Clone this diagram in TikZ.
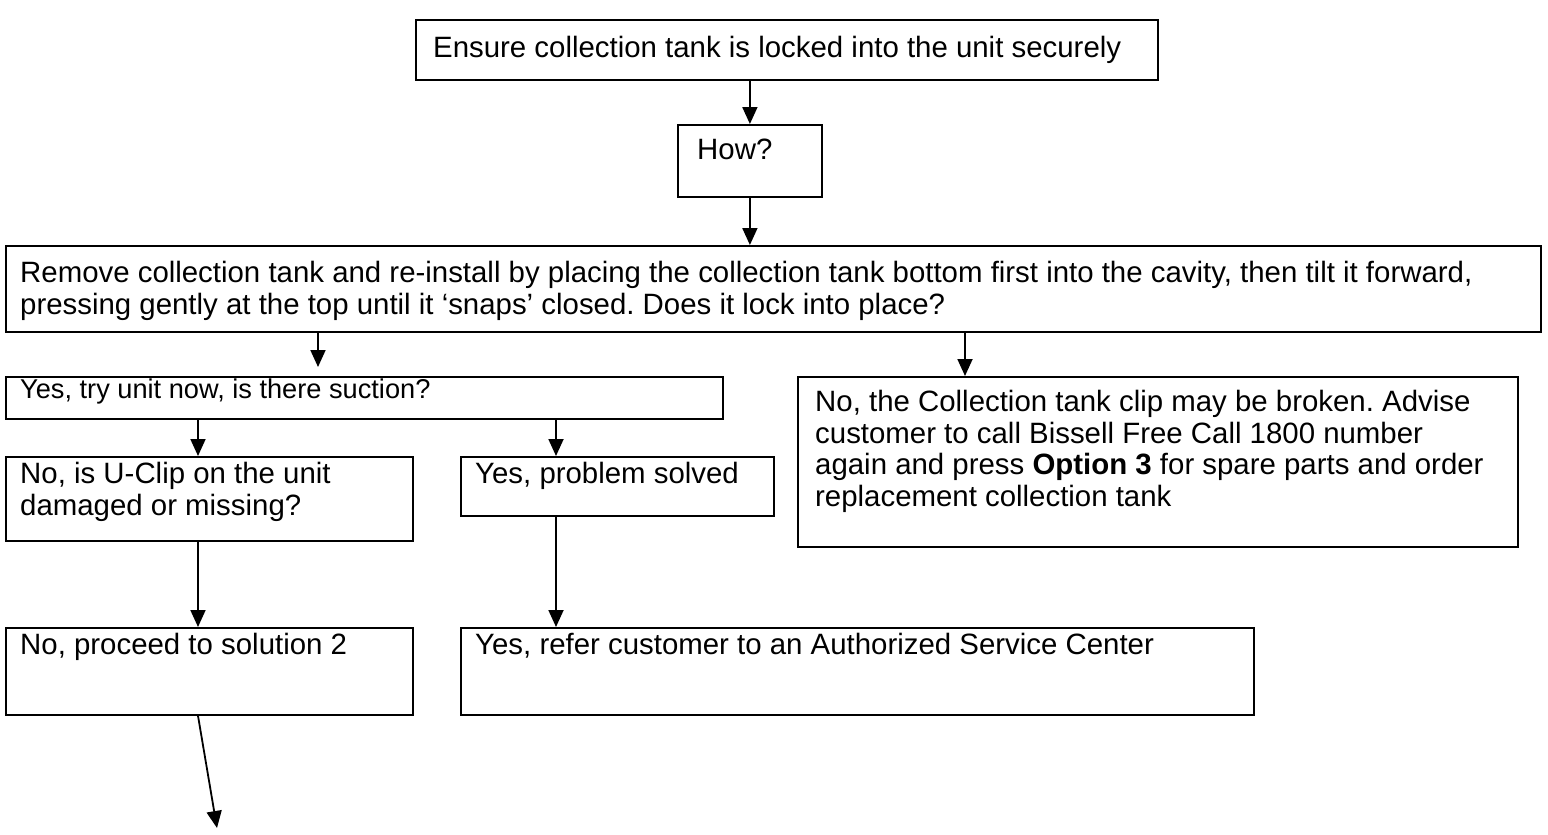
\documentclass[tikz,border=0pt]{standalone}
\usepackage{fontspec}
\setmainfont{Liberation Sans}
\usetikzlibrary{positioning,calc,arrows.meta}

\tikzset{
  box/.style={draw, line width=1.8pt, anchor=north west, inner sep=0pt},
  txt/.style={anchor=north west, inner sep=0pt, align=left, font=\fontsize{29.4}{31.5}\selectfont},
  smalltxt/.style={txt, font=\fontsize{27.2}{30}\selectfont},
  arr/.style={line width=1.8pt, -{Triangle[length=17pt,width=15pt]}}
}

\begin{document}
\frenchspacing
\begin{tikzpicture}[x=1pt,y=-1pt]
    \useasboundingbox (0,0) rectangle (1548,835);

    % Boxes
    \node[box, minimum width=742, minimum height=60] (ensure) at (415,19) {};
    \node[box, minimum width=144, minimum height=72] (how) at (677,124) {};
    \node[box, minimum width=1535, minimum height=86] (remove) at (5,245) {};
    \node[box, minimum width=717, minimum height=42] (suction) at (5,376) {};
    \node[box, minimum width=720, minimum height=170] (broken) at (797,376) {};
    \node[box, minimum width=407, minimum height=84] (uclip) at (5,456) {};
    \node[box, minimum width=313, minimum height=59] (solved) at (460,456) {};
    \node[box, minimum width=407, minimum height=87] (proceed) at (5,627) {};
    \node[box, minimum width=793, minimum height=87] (service) at (460,627) {};

    % Texts
    \node[txt] (ensuretxt) at ([shift={(18,17)}]ensure.north west) {Ensure collection tank is locked into the unit securely};
    \node[txt] (howtxt) at ([shift={(20,15)}]how.north west) {How?};
    \node[txt] (removetxt) at ([shift={(15,16)}]remove.north west) {Remove collection tank and re-install by placing the collection tank bottom first into the cavity, then tilt it forward,\\pressing gently at the top until it ‘snaps’ closed. Does it lock into place?};
    \node[smalltxt] (suctiontxt) at ([shift={(15,3)}]suction.north west) {Yes, try unit now, is there suction?};
    \node[txt] (brokentxt) at ([shift={(18,14)}]broken.north west) {No, the Collection tank clip may be broken. Advise\\customer to call Bissell Free Call 1800 number\\again and press \textbf{Option 3} for spare parts and order\\replacement collection tank};
    \node[txt] (ucliptxt) at ([shift={(15,6)}]uclip.north west) {No, is U-Clip on the unit\\damaged or missing?};
    \node[txt] (solvedtxt) at ([shift={(15,6)}]solved.north west) {Yes, problem solved};
    \node[txt] (proceedtxt) at ([shift={(15,6)}]proceed.north west) {No, proceed to solution 2};
    \node[txt] (servicetxt) at ([shift={(15,6)}]service.north west) {Yes, refer customer to an Authorized Service Center};

    % Connectors
    \coordinate (sol2) at (217,828);
    \draw[arr] (ensure.south -| how.north) -- (how.north);
    \draw[arr] (how.south) -- (how.south |- remove.north);
    \draw[arr, shorten >=9pt] (remove.south -| 318,0) -- (suction.north -| 318,0);
    \draw[arr] (remove.south -| 965,0) -- (broken.north -| 965,0);
    \draw[arr] (suction.south -| 198,0) -- (uclip.north -| 198,0);
    \draw[arr] (suction.south -| 556,0) -- (solved.north -| 556,0);
    \draw[arr] (uclip.south -| 198,0) -- (proceed.north -| 198,0);
    \draw[arr] (solved.south -| 556,0) -- (service.north -| 556,0);
    \draw[arr] (proceed.south -| 198,0) -- (sol2);
\end{tikzpicture}
\end{document}
